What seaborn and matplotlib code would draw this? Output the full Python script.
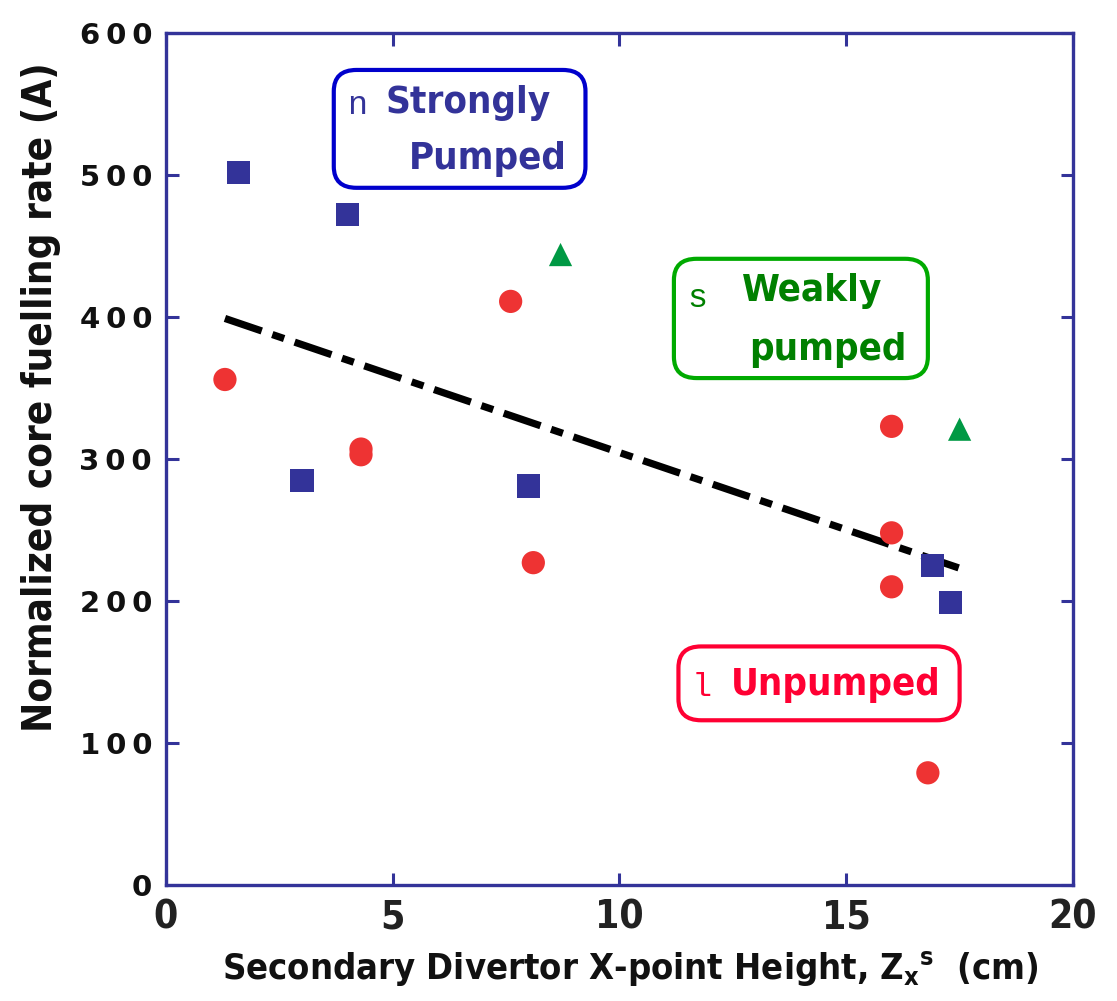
import numpy as np
import pandas as pd
import matplotlib
matplotlib.use("Agg")
import matplotlib.pyplot as plt
from matplotlib.patches import FancyBboxPatch
from matplotlib.ticker import FixedLocator, FuncFormatter
import seaborn as sns

# Strongly pumped discharges
strong_x = [1.6, 4.0, 3.0, 8.0, 16.9, 17.3]
strong_y = [502, 472, 285, 281, 225, 199]
# Weakly pumped discharges
weak_x = [8.7, 17.5]
weak_y = [444, 321]
# Unpumped discharges
unp_x = [1.3, 4.3, 4.3, 7.6, 8.1, 16.0, 16.0, 16.0, 16.8]
unp_y = [356, 307, 303, 411, 227, 323, 248, 210, 79]
# Linear trend endpoints
fit_x = [1.3, 17.6]
fit_y = [399, 222]

x_ticks = [0, 5, 10, 15, 20]
y_ticks = [0, 100, 200, 300, 400, 500, 600]

NAVY = "#333399"
RED = "#EE3333"
GREEN = "#009944"

sns.set_theme(style="white")
plt.rcParams["font.family"] = ["DejaVu Sans"]
plt.rcParams["font.stretch"] = "condensed"
plt.rcParams["lines.scale_dashes"] = False

df = pd.DataFrame({
    "x": strong_x + weak_x + unp_x,
    "y": strong_y + weak_y + unp_y,
    "group": ["Strongly pumped"] * len(strong_x) + ["Weakly pumped"] * len(weak_x)
             + ["Unpumped"] * len(unp_x),
})

fig = plt.figure(figsize=(11.17, 10.01), dpi=100)
ax = fig.add_axes([0.1486, 0.1159, 0.8120, 0.8511])

sns.scatterplot(
    data=df, x="x", y="y", hue="group", style="group",
    palette={"Strongly pumped": NAVY, "Weakly pumped": GREEN, "Unpumped": RED},
    markers={"Strongly pumped": "s", "Weakly pumped": "^", "Unpumped": "o"},
    s=280, linewidth=0, legend=False, ax=ax, zorder=3,
)

line, = ax.plot(fit_x, fit_y, color="black", lw=5.2, solid_capstyle="butt",
                dash_capstyle="butt", zorder=2)
line.set_dashes((28, 8, 9, 8))

ax.set_xlim(0, 20)
ax.set_ylim(0, 600)
ax.xaxis.set_major_locator(FixedLocator(x_ticks))
ax.yaxis.set_major_locator(FixedLocator(y_ticks))

for side in ["left", "right", "top", "bottom"]:
    ax.spines[side].set_color(NAVY)
    ax.spines[side].set_linewidth(2.4)
    ax.spines[side].set_visible(True)

ax.tick_params(axis="both", direction="in", length=9, width=2.2, color=NAVY,
               top=True, right=True, bottom=True, left=True)
ax.tick_params(axis="x", pad=10, labelsize=28, labelcolor="#222222")
ax.tick_params(axis="y", pad=10, labelsize=21, labelcolor="#111111")
for lab in ax.get_xticklabels():
    lab.set_fontweight("bold")
ax.yaxis.set_major_formatter(FuncFormatter(lambda v, p: "\u2009".join(str(int(v)))))
for lab in ax.get_yticklabels():
    lab.set_fontweight("bold")
    lab.set_fontstretch("normal")

ax.set_xlabel("")
ax.set_ylabel("")
fig.text(0.564, 0.032, r"Secondary Divertor X-point Height, Z$_\mathregular{x}$$^\mathregular{s}$  (cm)",
         ha="center", va="center", fontsize=26, fontweight="bold", color="#111111")
fig.text(0.037, 0.603, "Normalized core fuelling rate (A)", rotation=90,
         ha="center", va="center", fontsize=29, fontweight="bold", color="#111111")

# Category boxes drawn in data coordinates
def label_box(x0, y0, x1, y1, edge):
    box = FancyBboxPatch((x0, y0), x1 - x0, y1 - y0,
                         boxstyle="round,pad=0,rounding_size=0.5",
                         mutation_aspect=30, fc="white", ec=edge, lw=3.0,
                         transform=ax.transData, zorder=4)
    ax.add_patch(box)

MONO = dict(family="Liberation Mono", fontstretch="normal", fontsize=24, va="center", zorder=5)
BOLD = dict(fontsize=27.5, fontweight="bold", va="center", zorder=5)

label_box(3.7, 491, 9.25, 574, "#0000CC")
ax.text(4.0, 549, "n", color=NAVY, **MONO)
ax.text(4.85, 551, "Strongly", color=NAVY, **BOLD)
ax.text(5.35, 511, "Pumped", color=NAVY, **BOLD)

label_box(11.2, 357, 16.8, 441, "#00AA00")
ax.text(11.5, 413, "s", color="#008000", **MONO)
ax.text(12.7, 418, "Weakly", color="#008000", **BOLD)
ax.text(12.85, 377, "pumped", color="#008000", **BOLD)

label_box(11.3, 116, 17.5, 168, "#FF0033")
ax.text(11.6, 139, "l", color="#FF0033", **MONO)
ax.text(12.45, 141, "Unpumped", color="#FF0033", **BOLD)

fig.savefig("out.png", dpi=100, facecolor="white")
